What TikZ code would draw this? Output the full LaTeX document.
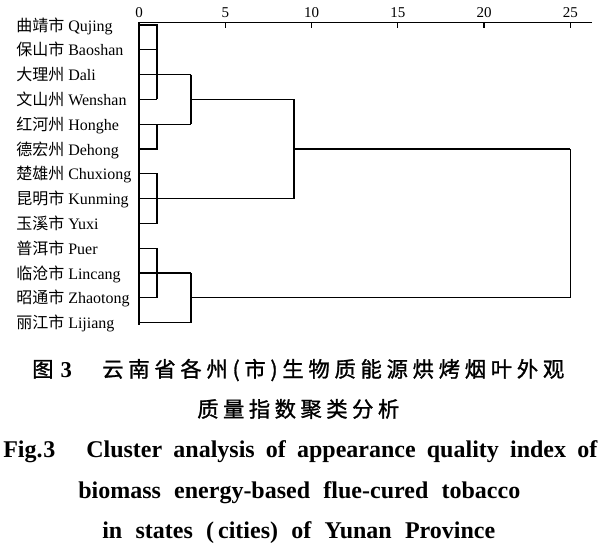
\documentclass[tikz,border=0pt]{standalone}
\usepackage{fontspec}
\setmainfont{Liberation Serif}
\newfontfamily\cjk{Noto Sans CJK SC}
\newfontfamily\cjkb{Noto Sans CJK SC}[FakeBold=1.2]
\newdimen\px \px=0.75pt
\def\spreadchars#1{\spreadA#1\relax}
\def\spreadA#1{\ifx#1\relax\else#1\hfil\expandafter\spreadA\fi}
\tikzset{
  lab/.style={anchor=base west, inner sep=0pt, font=\fontsize{12}{14}\selectfont},
  ticklab/.style={anchor=base, inner sep=0pt, font=\fontsize{11.25}{13}\selectfont},
  capzh/.style={anchor=base west, inner sep=0pt, font=\fontsize{16}{18}\cjkb},
  capen/.style={anchor=base west, inner sep=0pt, font=\fontsize{18}{20}\selectfont\bfseries},
  ln/.style={line width=0.8pt}
}
\begin{document}
\begin{tikzpicture}[x=0.75pt,y=-0.75pt]
\useasboundingbox (0,0) rectangle (600,544);
% axis
\coordinate (ax0) at (139,22.7);
\coordinate (ax1) at (592,22.7);
\coordinate (axb) at (139,325);
\draw[ln] (ax1) -- (ax0) -- (axb);
\foreach \v/\xx in {5/225.25,10/311.5,15/397.75,20/484,25/570.25}{
  \coordinate (t\v) at (\xx,22.7);
  \coordinate (tb\v) at (\xx,28);
  \draw[ln] (t\v) -- (tb\v);
  \node[ticklab] (tl\v) at (\xx,17) {\v};
}
\node[ticklab] (tl0) at (139,17) {0};
% leaves
\foreach \i/\lbl in {0/{{\cjk 曲靖市} Qujing},1/{{\cjk 保山市} Baoshan},2/{{\cjk 大理州} Dali},3/{{\cjk 文山州} Wenshan},4/{{\cjk 红河州} Honghe},5/{{\cjk 德宏州} Dehong},6/{{\cjk 楚雄州} Chuxiong},7/{{\cjk 昆明市} Kunming},8/{{\cjk 玉溪市} Yuxi},9/{{\cjk 普洱市} Puer},10/{{\cjk 临沧市} Lincang},11/{{\cjk 昭通市} Zhaotong},12/{{\cjk 丽江市} Lijiang}}{
  \pgfmathsetmacro{\yy}{25+\i*24.8}
  \coordinate (L\i) at (139,\yy);
  \coordinate (A\i) at (157,\yy);
  \coordinate (B\i) at (191,\yy);
  \coordinate (C\i) at (294,\yy);
  \coordinate (D\i) at (570.25,\yy);
  \node[lab] (n\i) at (16,\yy+6) {\lbl};
}
% cluster 1
\draw[ln] (L0) -- (A0) -- (A1) -- (A2) -- (A3);
\draw[ln] (L1) -- (A1);
\draw[ln] (L3) -- (A3);
\draw[ln] (L2) -- (B2);
\draw[ln] (L4) -- (B4);
\draw[ln] (L5) -- (A5) -- (A4);
\draw[ln] (B2) -- (B4);
\draw[ln] (B3) -- (C3);
% cluster 2
\draw[ln] (L6) -- (A6) -- (A8) -- (L8);
\draw[ln] (L7) -- (C7);
\draw[ln] (C3) -- (C7);
\draw[ln] (C5) -- (D5);
% cluster 3
\draw[ln] (L9) -- (A9) -- (A11) -- (L11);
\draw[ln] (L10) -- (B10);
\draw[ln] (L12) -- (B12) -- (B10);
\draw[ln] (B11) -- (D11);
\draw[ln] (D5) -- (D11);
% captions
\node[anchor=base west, inner sep=0pt] (fz) at (32,377) {{\fontsize{16}{18}\cjkb 图}\hspace{7\px}{\fontsize{17}{18}\selectfont\bfseries 3}};
\node[capzh] (cz1) at (102,377) {\hbox to 462\px{\spreadchars{云南省各州(市)生物质能源烘烤烟叶外观}\unskip}};
\node[capzh] (cz2) at (197,417) {\hbox to 202\px{\spreadchars{质量指数聚类分析}\unskip}};
\node[capen] (fe) at (3,457) {\hbox to 52\px{Fig.\hfil 3}};
\node[capen] (ce1) at (86,457) {\hbox to 511\px{Cluster analysis of appearance quality index of}};
\node[capen] (ce2) at (78,498) {\hbox to 442\px{biomass energy-based flue-cured tobacco}};
\node[capen] (ce3) at (102,538) {\hbox to 393\px{in states (\,cities) of Yunan Province}};
\end{tikzpicture}
\end{document}
